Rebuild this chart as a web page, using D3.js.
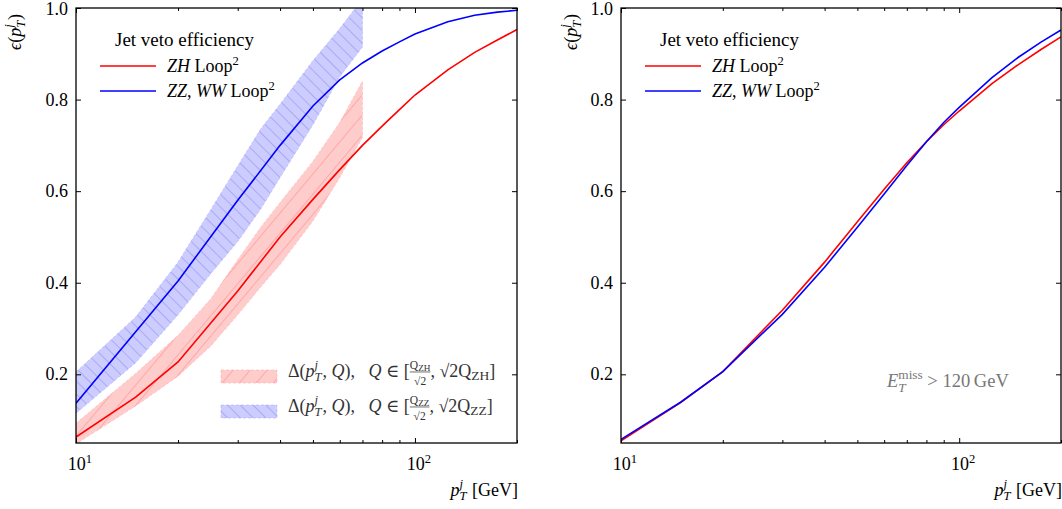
<!DOCTYPE html>
<html><head><meta charset="utf-8">
<script src="https://cdn.jsdelivr.net/npm/d3@7"></script>
<style>
html,body{margin:0;padding:0;background:#fff;}
svg{display:block;}
text{white-space:pre;font-family:"Liberation Serif","DejaVu Serif",serif;}
</style>
</head><body>
<svg id="c" width="1062" height="509"></svg>
<script>
// ---------------- data ----------------
const ptLine = [10,15,20,30,40,50,60,70,80,90,100,125,150,175,200];
const effZH_left  = [0.063,0.150,0.227,0.382,0.500,0.582,0.647,0.700,0.742,0.778,0.810,0.865,0.903,0.930,0.953];
const effZZ_left  = [0.137,0.293,0.404,0.580,0.700,0.786,0.843,0.880,0.906,0.926,0.943,0.970,0.984,0.991,0.995];
const effZH_right = [0.055,0.138,0.206,0.340,0.445,0.533,0.604,0.662,0.708,0.745,0.775,0.835,0.877,0.910,0.937];
const effZZ_right = [0.058,0.139,0.206,0.331,0.434,0.521,0.594,0.656,0.708,0.750,0.783,0.848,0.893,0.926,0.952];
const ptBand    = [10,15,20,25,30,35,40,50,60,70];
const bandZH_lo = [0.048,0.131,0.196,0.262,0.330,0.390,0.440,0.535,0.630,0.717];
const bandZH_hi = [0.093,0.202,0.285,0.365,0.450,0.520,0.575,0.665,0.750,0.840];
const bandZZ_lo = [0.115,0.225,0.330,0.420,0.490,0.560,0.630,0.745,0.850,0.915];
const bandZZ_hi = [0.205,0.325,0.445,0.560,0.655,0.735,0.790,0.885,0.955,1.020];
const xDomain = [10,200];
const yDomain = [0.05,1.0];
const yTicks = [0.2,0.4,0.6,0.8,1.0];
const yTickLabels = ["0.2","0.4","0.6","0.8","1.0"];
const xMajor = [10,100];
const xMajorLabels = [["10","1"],["10","2"]];
const xMinor = [20,30,40,50,60,70,80,90,200];
const legendTitle = "Jet veto efficiency";

// ---------------- helpers ----------------
const svg = d3.select("#c");
svg.append("rect").attr("width",1062).attr("height",509).attr("fill","#fff");

function runs(target, ps, x, y, sz, fill){
  let cx = x;
  for (const p of ps){
    if (p.stack){
      const fs = sz*(p.fs||0.7);
      let w = 0; const els = [];
      p.stack.forEach((sub,k)=>{
        const gg = target.append("g");
        const end = runs(gg, sub, 0, y + p.dys[k]*sz, fs, fill);
        els.push({gg, w:end}); w = Math.max(w,end);
      });
      els.forEach(e=>e.gg.attr("transform",`translate(${cx + (p.center?(w-e.w)/2:0)},0)`));
      if (p.bar){
        target.append("line").attr("x1",cx).attr("x2",cx+w)
          .attr("y1",y+p.bar*sz).attr("y2",y+p.bar*sz)
          .attr("stroke",fill).attr("stroke-width",0.7);
      }
      cx += w + (p.pad||0)*sz;
    } else {
      const dx = (p.dx||0)*sz;
      const t = target.append("text")
        .attr("x", cx+dx).attr("y", y+(p.dy||0)*sz)
        .attr("font-size", sz*(p.fs||1))
        .attr("font-style", p.it?"italic":"normal")
        .attr("fill", fill).text(p.t);
      cx += dx + t.node().getComputedTextLength();
    }
  }
  return cx;
}
function rich(parent, parts, opt){
  const g = parent.append("g");
  const inner = g.append("g");
  const w = runs(inner, parts, 0, 0, opt.size, opt.fill||"#000");
  const off = opt.anchor==="end" ? -w : opt.anchor==="middle" ? -w/2 : 0;
  inner.attr("transform",`translate(${off},0)`);
  g.attr("transform",`translate(${opt.x},${opt.y})` + (opt.rotate?` rotate(${opt.rotate})`:""));
  return g;
}
const pTj = ()=>[{t:"p",it:true},{stack:[[{t:"j",it:true}],[{t:"T",it:true}]],dys:[-0.42,0.24],fs:0.7,pad:0.05}];

// patterns
const defs = svg.append("defs");
function hatch(id, angle, gap, fill, stroke){
  const p = defs.append("pattern").attr("id",id).attr("patternUnits","userSpaceOnUse")
    .attr("width",gap).attr("height",gap).attr("patternTransform",`rotate(${angle})`);
  p.append("rect").attr("width",gap).attr("height",gap).attr("fill",fill);
  p.append("line").attr("x1",0.5).attr("y1",0).attr("x2",0.5).attr("y2",gap)
    .attr("stroke",stroke).attr("stroke-width",0.9);
}
hatch("hatchRed", 40, 13, "#ffcccc", "#ffa3a3");
hatch("hatchBlue", -45, 9, "#ccccff", "#a6a6f0");

// ---------------- panels ----------------
const Y0 = 8, Y1 = 443;
const panels = [
  {x0:76, x1:517, zh:effZH_left, zz:effZZ_left, bands:true, ylab:21},
  {x0:621, x1:1061, zh:effZH_right, zz:effZZ_right, bands:false, ylab:577}
];

panels.forEach((P,pi)=>{
  const x = d3.scaleLog().domain(xDomain).range([P.x0,P.x1]);
  const y = d3.scaleLinear().domain(yDomain).range([Y1,Y0]);
  const clipId = "clip"+pi;
  defs.append("clipPath").attr("id",clipId).append("rect")
    .attr("x",P.x0).attr("y",Y0).attr("width",P.x1-P.x0).attr("height",Y1-Y0);
  const plot = svg.append("g").attr("clip-path",`url(#${clipId})`);

  if (P.bands){
    const area = d3.area().x(d=>x(d[0])).y0(d=>y(d[1])).y1(d=>y(d[2]));
    const zhB = ptBand.map((p,i)=>[p,bandZH_lo[i],bandZH_hi[i]]);
    const zzB = ptBand.map((p,i)=>[p,bandZZ_lo[i],bandZZ_hi[i]]);
    plot.append("path").attr("d",area(zhB)).attr("fill","url(#hatchRed)")
      .attr("stroke","#ffb0b0").attr("stroke-width",0.6).attr("stroke-dasharray","3,2");
    plot.append("path").attr("d",area(zzB)).attr("fill","url(#hatchBlue)")
      .attr("stroke","#b0b0ff").attr("stroke-width",0.6).attr("stroke-dasharray","3,2");
  }
  const line = d3.line().x(d=>x(d[0])).y(d=>y(d[1]));
  plot.append("path").attr("d",line(ptLine.map((p,i)=>[p,P.zh[i]])))
    .attr("fill","none").attr("stroke","#ff0000").attr("stroke-width",1.6);
  plot.append("path").attr("d",line(ptLine.map((p,i)=>[p,P.zz[i]])))
    .attr("fill","none").attr("stroke","#0000ff").attr("stroke-width",1.6);

  // axes (inward ticks on all sides)
  const ax = svg.append("g");
  const styleAxis = g=>{ g.select(".domain").remove(); g.selectAll("line").attr("stroke","#000").attr("stroke-width",1); };
  ax.append("g").attr("transform",`translate(0,${Y1})`)
    .call(d3.axisBottom(x).tickValues(xMajor).tickSize(-5).tickFormat("")).call(styleAxis);
  ax.append("g").attr("transform",`translate(0,${Y1})`)
    .call(d3.axisBottom(x).tickValues(xMinor).tickSize(-3).tickFormat("")).call(styleAxis);
  ax.append("g").attr("transform",`translate(0,${Y0})`)
    .call(d3.axisTop(x).tickValues(xMajor).tickSize(-5).tickFormat("")).call(styleAxis);
  ax.append("g").attr("transform",`translate(0,${Y0})`)
    .call(d3.axisTop(x).tickValues(xMinor).tickSize(-3).tickFormat("")).call(styleAxis);
  ax.append("g").attr("transform",`translate(${P.x0},0)`)
    .call(d3.axisLeft(y).tickValues(yTicks).tickSize(-5).tickFormat("")).call(styleAxis);
  ax.append("g").attr("transform",`translate(${P.x1},0)`)
    .call(d3.axisRight(y).tickValues(yTicks).tickSize(-5).tickFormat("")).call(styleAxis);

  // frame
  svg.append("rect").attr("x",P.x0).attr("y",Y0).attr("width",P.x1-P.x0).attr("height",Y1-Y0)
    .attr("fill","none").attr("stroke","#000").attr("stroke-width",1.3);

  // tick labels
  yTicks.forEach((v,i)=>{
    svg.append("text").attr("x",P.x0-8).attr("y",Math.max(y(v)+6,15)).attr("text-anchor","end")
      .attr("font-size",18).attr("fill","#000").text(yTickLabels[i]);
  });
  xMajor.forEach((v,i)=>{
    rich(svg,[{t:xMajorLabels[i][0]},{t:xMajorLabels[i][1],fs:0.7,dy:-0.4}],
      {x:x(v)+4,y:470,size:18,anchor:"middle"});
  });

  // axis titles
  rich(svg,[...pTj(),{t:" [GeV]"}],{x:P.x1+1,y:496,size:18,anchor:"end"});
  rich(svg,[{t:"\u03F5",it:true},{t:"("},...pTj(),{t:")"}],{x:P.ylab,y:32,size:18,anchor:"middle",rotate:-90});

  // legend
  const lx = P.x0;
  svg.append("text").attr("x",lx+39).attr("y",46).attr("font-size",19).attr("fill","#000").text(legendTitle);
  svg.append("line").attr("x1",lx+24).attr("x2",lx+80).attr("y1",66).attr("y2",66)
    .attr("stroke","#ff0000").attr("stroke-width",1.6);
  svg.append("line").attr("x1",lx+24).attr("x2",lx+80).attr("y1",91).attr("y2",91)
    .attr("stroke","#0000ff").attr("stroke-width",1.6);
  rich(svg,[{t:"ZH",it:true},{t:" Loop"},{t:"2",fs:0.7,dy:-0.4}],{x:lx+91,y:72,size:18});
  rich(svg,[{t:"ZZ",it:true},{t:", "},{t:"WW",it:true},{t:" Loop"},{t:"2",fs:0.7,dy:-0.4}],{x:lx+91,y:97,size:18});
});

// band legend (left panel)
const bandLegend = [
  {fill:"url(#hatchRed)", stroke:"#ffb0b0", y:370, sub:"ZH", base:377},
  {fill:"url(#hatchBlue)", stroke:"#b0b0ff", y:405, sub:"ZZ", base:412}
];
bandLegend.forEach(b=>{
  svg.append("rect").attr("x",221).attr("y",b.y).attr("width",56).attr("height",13)
    .attr("fill",b.fill).attr("stroke",b.stroke).attr("stroke-width",0.6).attr("stroke-dasharray","3,2");
  rich(svg,[
    {t:"\u0394("},...pTj(),{t:", "},{t:"Q",it:true},{t:"),   "},{t:"Q",it:true},{t:" \u2208 ["},
    {stack:[[{t:"Q"},{t:b.sub,fs:0.8,dy:0.1}],[{t:"\u221A2"}]],dys:[-0.42,0.45],fs:0.64,center:true,bar:-0.28},
    {t:", \u221A2"},{t:"Q"},{t:b.sub,fs:0.75,dy:0.15},{t:"]"}
  ],{x:288,y:b.base,size:18,fill:"#333"});
});

// annotation right panel
rich(svg,[{t:"E",it:true},{stack:[[{t:"miss"}],[{t:"T",it:true}]],dys:[-0.45,0.25],fs:0.72},{t:" > 120\u2009GeV"}],
  {x:887,y:387,size:18.5,fill:"#777"});
</script>
</body></html>
